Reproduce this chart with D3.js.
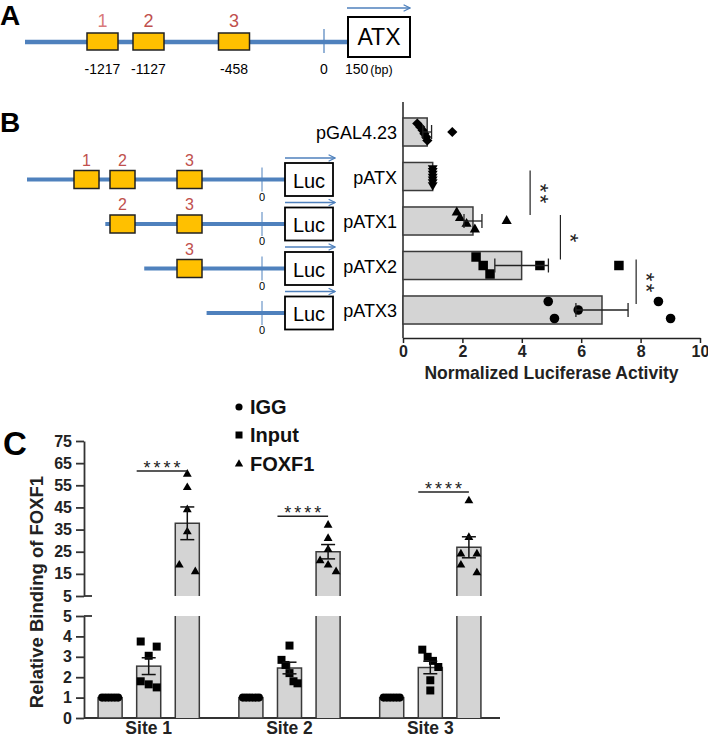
<!DOCTYPE html>
<html>
<head>
<meta charset="utf-8">
<script src="https://cdn.jsdelivr.net/npm/d3@7"></script>
<style>
  body { margin: 0; background: #fff; }
  svg { display: block; }
  text { font-family: "Liberation Sans", Arial, sans-serif; }
</style>
</head>
<body>
<svg id="fig" width="708" height="738"></svg>
<script>
// promoter map (panels A and B)
var siteNames = ["1", "2", "3"];
var siteBp = [-1217, -1127, -458];
var siteLabels = ["-1217", "-1127", "-458"];
var mapStart = -1400;
var geneStart = 0;
var geneEnd = 150;

// panel B: luciferase reporter
var constructs = ["pGAL4.23", "pATX", "pATX1", "pATX2", "pATX3"];
var constructStart = [null, -1400, -1170, -910, -350];
var constructSites = [[], [0, 1, 2], [1, 2], [2], []];
var lucValues = [
  [0.48, 0.58, 0.66, 0.72, 0.78, 0.82, 1.66],
  [1, 1, 1, 1, 1, 1, 1],
  [1.81, 1.92, 2.14, 2.42, 3.49],
  [2.46, 2.7, 2.93, 4.61, 7.27],
  [4.89, 5.1, 5.9, 8.6, 9.01]
];
var lucTicks = [0, 2, 4, 6, 8, 10];
var lucSig = [
  { from: 1, to: 2, at: 4.28, label: "**" },
  { from: 2, to: 3, at: 5.3, label: "*" },
  { from: 3, to: 4, at: 7.85, label: "**" }
];

// panel C: ChIP
var chipSites = ["Site 1", "Site 2", "Site 3"];
var chipGroups = ["IGG", "Input", "FOXF1"];
var iggValues = [[1, 1, 1, 1, 1, 1], [1, 1, 1, 1, 1, 1], [1, 1, 1, 1, 1, 1]];
var inputValues = [
  [3.75, 3.5, 3.05, 1.8, 1.65, 1.5],
  [3.55, 2.85, 2.6, 2.2, 1.8, 1.7],
  [3.35, 3.0, 2.8, 2.5, 1.85, 1.35]
];
var foxf1Values = [
  [60, 54, 44, 34, 19, 16],
  [37, 31, 26, 21, 19, 16],
  [48, 31.5, 24, 24, 19, 15.5]
];
var upperTicks = [5, 15, 25, 35, 45, 55, 65, 75];
var lowerTicks = [0, 1, 2, 3, 4, 5];
var chipSig = [61.5, 41, 52];

var blue = "#4f81bd", orange = "#ffc000", red = "#c0504d";
var barFill = "#d4d4d4", barStroke = "#3a3a3a";

var svg = d3.select("#fig");

function sem(v) {
  if (v.length < 2) return 0;
  return d3.deviation(v) / Math.sqrt(v.length);
}

// spread overlapping points across the bar, like a scatter dot plot
function spread(vals, pos, thresh, total) {
  var items = vals.map((v, i) => ({ i: i, p: pos(v) })).sort((a, b) => a.p - b.p);
  var groups = [], cur = [];
  items.forEach(function (d) {
    if (cur.length && d.p - cur[cur.length - 1].p > thresh) { groups.push(cur); cur = []; }
    cur.push(d);
  });
  if (cur.length) groups.push(cur);
  var off = vals.map(() => 0);
  groups.forEach(function (g) {
    var k = g.length;
    if (k < 2) return;
    var step = total / (k - 1);
    g.forEach((d, j) => off[d.i] = (j - (k - 1) / 2) * step);
  });
  return off;
}

var defs = svg.append("defs");
defs.append("marker")
  .attr("id", "arrowhead")
  .attr("viewBox", "0 0 10 10")
  .attr("refX", 9).attr("refY", 5)
  .attr("markerWidth", 5).attr("markerHeight", 5)
  .attr("orient", "auto")
  .append("path")
  .attr("d", "M1,1 L9,5 L1,9")
  .attr("fill", "none")
  .attr("stroke", blue)
  .attr("stroke-width", 1.6);

function panelLetter(t, x, y, size) {
  svg.append("text").attr("x", x).attr("y", y)
    .attr("font-size", size).attr("font-weight", "bold").text(t);
}

// ---------- panel A ----------
panelLetter("A", 0, 25, 28);
var gA = svg.append("g");
var mapA = d3.scaleLinear()
  .domain([mapStart].concat(siteBp, [geneStart, geneEnd]))
  .range([25, 102.5, 148.5, 234, 324, 348]);
var lineA = 42;
gA.append("line")
  .attr("x1", mapA(mapStart)).attr("x2", mapA(geneEnd))
  .attr("y1", lineA).attr("y2", lineA)
  .attr("stroke", blue).attr("stroke-width", 4.5);
gA.append("line")
  .attr("x1", mapA(geneStart)).attr("x2", mapA(geneStart))
  .attr("y1", lineA - 13).attr("y2", lineA + 11)
  .attr("stroke", blue).attr("stroke-width", 1.2);
gA.selectAll("rect.site").data(siteBp).enter().append("rect")
  .attr("class", "site")
  .attr("x", d => mapA(d) - 15.5).attr("y", lineA - 9)
  .attr("width", 31).attr("height", 17)
  .attr("fill", orange).attr("stroke", "#222").attr("stroke-width", 1.5);
gA.selectAll("text.num").data(siteBp).enter().append("text")
  .attr("x", d => mapA(d)).attr("y", 27)
  .attr("text-anchor", "middle").attr("font-size", 18)
  .attr("fill", (d, i) => i === 0 ? "#d97a7a" : red).text((d, i) => siteNames[i]);
gA.selectAll("text.bp").data(siteBp).enter().append("text")
  .attr("x", d => mapA(d)).attr("y", 74)
  .attr("text-anchor", "middle").attr("font-size", 14)
  .text((d, i) => siteLabels[i]);
gA.append("text").attr("x", mapA(geneStart)).attr("y", 74)
  .attr("text-anchor", "middle").attr("font-size", 14).text(geneStart);
var t150 = gA.append("text").attr("x", mapA(geneEnd) - 3).attr("y", 74)
  .attr("font-size", 14).text(geneEnd);
t150.append("tspan").attr("dx", 2).attr("font-size", 12.5).text("(bp)");
gA.append("rect")
  .attr("x", mapA(geneEnd)).attr("y", 17).attr("width", 62).attr("height", 40)
  .attr("fill", "#fff").attr("stroke", "#000").attr("stroke-width", 2);
gA.append("text").attr("x", mapA(geneEnd) + 31).attr("y", 37)
  .attr("text-anchor", "middle").attr("dominant-baseline", "central")
  .attr("font-size", 23).text("ATX");
gA.append("line")
  .attr("x1", mapA(geneEnd) - 1).attr("x2", mapA(geneEnd) + 62)
  .attr("y1", 8).attr("y2", 8)
  .attr("stroke", blue).attr("stroke-width", 1.6)
  .attr("marker-end", "url(#arrowhead)");

// ---------- panel B ----------
panelLetter("B", 0, 132, 28);
var xB = d3.scaleLinear().domain([0, 10]).range([403, 700]);
var yB = d3.scaleBand().domain(constructs).range([109.75, 332.25])
  .paddingInner(0.37).paddingOuter(0.185);
var bwB = yB.bandwidth();
var mapB = d3.scaleLinear()
  .domain([mapStart].concat(siteBp, [geneStart, geneEnd]))
  .range([27, 86.5, 122.5, 189.5, 262, 285]);

var gBd = svg.append("g");
constructs.forEach(function (name, i) {
  if (constructStart[i] === null) return;
  var cy = yB(name) + bwB / 2 + 3;
  var row = gBd.append("g");
  row.append("line")
    .attr("x1", mapB(constructStart[i])).attr("x2", mapB(geneEnd))
    .attr("y1", cy).attr("y2", cy)
    .attr("stroke", blue).attr("stroke-width", 4);
  row.append("line")
    .attr("x1", mapB(geneStart)).attr("x2", mapB(geneStart))
    .attr("y1", cy - 12).attr("y2", cy + 12)
    .attr("stroke", blue).attr("stroke-width", 1);
  row.append("text").attr("x", mapB(geneStart)).attr("y", cy + 17)
    .attr("text-anchor", "middle").attr("dominant-baseline", "central")
    .attr("font-size", 11).text(geneStart);
  row.selectAll("rect.site").data(constructSites[i]).enter().append("rect")
    .attr("x", s => mapB(siteBp[s]) - 12.5).attr("y", cy - 9)
    .attr("width", 25).attr("height", 18)
    .attr("fill", orange).attr("stroke", "#222").attr("stroke-width", 1.5);
  row.selectAll("text.num").data(constructSites[i]).enter().append("text")
    .attr("x", s => mapB(siteBp[s])).attr("y", cy - 14)
    .attr("text-anchor", "middle").attr("font-size", 16)
    .attr("fill", red).text(s => siteNames[s]);
  row.append("rect")
    .attr("x", mapB(geneEnd)).attr("y", cy - 16.5).attr("width", 48).attr("height", 33)
    .attr("fill", "#fff").attr("stroke", "#000").attr("stroke-width", 1.8);
  row.append("text").attr("x", mapB(geneEnd) + 24).attr("y", cy + 1)
    .attr("text-anchor", "middle").attr("dominant-baseline", "central")
    .attr("font-size", 20).text("Luc");
  row.append("line")
    .attr("x1", mapB(geneEnd)).attr("x2", mapB(geneEnd) + 50)
    .attr("y1", cy - 21.5).attr("y2", cy - 21.5)
    .attr("stroke", blue).attr("stroke-width", 1.6)
    .attr("marker-end", "url(#arrowhead)");
});

var gB = svg.append("g");
gB.selectAll("text.cname").data(constructs).enter().append("text")
  .attr("x", 397).attr("y", d => yB(d) + bwB / 2 + 1)
  .attr("text-anchor", "end").attr("dominant-baseline", "central")
  .attr("font-size", 18).text(d => d);

var axB = gB.append("g").attr("transform", "translate(0,338)")
  .call(d3.axisBottom(xB).tickValues(lucTicks).tickSize(5).tickSizeOuter(0));
axB.selectAll("path,line").attr("stroke", "#222").attr("stroke-width", 1.5);
axB.selectAll("text").attr("font-family", "Liberation Sans, Arial, sans-serif")
  .attr("font-size", 16).attr("font-weight", "bold").attr("fill", "#222");
gB.append("line").attr("x1", xB(0)).attr("x2", xB(0)).attr("y1", 102).attr("y2", 338)
  .attr("stroke", "#222").attr("stroke-width", 1.5);
gB.append("text").attr("x", (xB(0) + xB(10)) / 2).attr("y", 379)
  .attr("text-anchor", "middle").attr("font-size", 17.5).attr("font-weight", "bold")
  .attr("fill", "#222").text("Normalized Luciferase Activity");

var lucShapes = [
  { type: d3.symbolSquare, size: 52, rot: 45 },
  { type: d3.symbolTriangle, size: 42, rot: 180 },
  { type: d3.symbolTriangle, size: 45, rot: 0 },
  { type: d3.symbolSquare, size: 90, rot: 0 },
  { type: d3.symbolCircle, size: 72, rot: 0 }
];

constructs.forEach(function (name, i) {
  var vals = lucValues[i];
  var m = d3.mean(vals), e = sem(vals);
  var cy = yB(name) + bwB / 2;
  gB.append("rect")
    .attr("x", xB(0)).attr("y", yB(name))
    .attr("width", xB(m) - xB(0)).attr("height", bwB)
    .attr("fill", barFill).attr("stroke", barStroke).attr("stroke-width", 1.5);
  var off = spread(vals, xB, 13, 17);
  var sh = lucShapes[i];
  gB.selectAll("path.p" + i).data(vals).enter().append("path")
    .attr("d", d3.symbol().type(sh.type).size(sh.size))
    .attr("transform", (d, j) => `translate(${xB(d)},${cy + off[j]}) rotate(${sh.rot})`)
    .attr("fill", "#000");
  if (e > 0) {
    var eb = gB.append("g").attr("stroke", "#222").attr("stroke-width", 1.3);
    eb.append("line").attr("x1", xB(m - e)).attr("x2", xB(m + e)).attr("y1", cy).attr("y2", cy);
    [m - e, m + e].forEach(function (v) {
      eb.append("line").attr("x1", xB(v)).attr("x2", xB(v)).attr("y1", cy - 7).attr("y2", cy + 7);
    });
  }
});

// significance: vertical line with the stars stacked beside it
lucSig.forEach(function (s) {
  var y1 = yB(constructs[s.from]) + bwB / 2 - 6;
  var y2 = yB(constructs[s.to]) + bwB / 2 - 6;
  gB.append("line").attr("x1", xB(s.at)).attr("x2", xB(s.at))
    .attr("y1", y1).attr("y2", y2).attr("stroke", "#222").attr("stroke-width", 1.2);
  var mid = (y1 + y2) / 2 + 2;
  gB.append("text")
    .attr("transform", `translate(${xB(s.at) + 2.5},${mid}) rotate(90)`)
    .attr("text-anchor", "middle").attr("font-size", 22).attr("letter-spacing", 2.4)
    .attr("fill", "#222").text(s.label);
});

// ---------- panel C ----------
panelLetter("C", 3, 455, 33);
var gC = svg.append("g");
var xC0 = d3.scaleBand().domain(chipSites).range([84, 495]).paddingInner(0.281).paddingOuter(0.1);
var xC1 = d3.scaleBand().domain(chipGroups).range([0, xC0.bandwidth()]).paddingInner(0.377);
var bwC = xC1.bandwidth();
var yLow = d3.scaleLinear().domain([0, 5]).range([718, 616]);
var yUp = d3.scaleLinear().domain([5, 75]).range([596, 441]);
function yC(v) { return v <= 5 ? yLow(v) : yUp(v); }

var axisFont = "Liberation Sans, Arial, sans-serif";
function styleAxis(g) {
  g.selectAll("path,line").attr("stroke", "#333").attr("stroke-width", 1.8);
  g.selectAll("text").attr("font-family", axisFont).attr("font-size", 16)
    .attr("font-weight", "bold").attr("fill", "#222");
}
var axUp = gC.append("g").attr("transform", "translate(84,0)")
  .call(d3.axisLeft(yUp).tickValues(upperTicks).tickFormat(d3.format("d"))
    .tickSize(8).tickPadding(4).tickSizeOuter(0));
styleAxis(axUp);
var axLow = gC.append("g").attr("transform", "translate(84,0)")
  .call(d3.axisLeft(yLow).tickValues(lowerTicks).tickFormat(d3.format("d"))
    .tickSize(8).tickPadding(4).tickSizeOuter(0));
styleAxis(axLow);
[yUp(5), yLow(5)].forEach(function (y) {
  gC.append("line").attr("x1", 84).attr("x2", 92).attr("y1", y).attr("y2", y)
    .attr("stroke", "#333").attr("stroke-width", 1.8);
});
gC.append("line").attr("x1", 84).attr("x2", 500).attr("y1", yLow(0)).attr("y2", yLow(0))
  .attr("stroke", "#333").attr("stroke-width", 1.8);

gC.selectAll("text.site").data(chipSites).enter().append("text")
  .attr("x", d => xC0(d) + xC0.bandwidth() / 2).attr("y", 734)
  .attr("text-anchor", "middle").attr("font-size", 17.5).attr("font-weight", "bold")
  .attr("fill", "#222").text(d => d);

gC.append("text")
  .attr("transform", "translate(36,592) rotate(-90)")
  .attr("text-anchor", "middle").attr("dominant-baseline", "central")
  .attr("font-size", 18.5).attr("font-weight", "bold").attr("fill", "#222")
  .text("Relative Binding of FOXF1");

var chipShapes = {
  IGG: { type: d3.symbolCircle, size: 52 },
  Input: { type: d3.symbolSquare, size: 64 },
  FOXF1: { type: d3.symbolTriangle, size: 34 }
};
var chipData = { IGG: iggValues, Input: inputValues, FOXF1: foxf1Values };

chipSites.forEach(function (site, si) {
  chipGroups.forEach(function (grp) {
    var vals = chipData[grp][si];
    var m = d3.mean(vals), e = sem(vals);
    var x0 = xC0(site) + xC1(grp), cx = x0 + bwC / 2;
    if (m <= 5) {
      gC.append("rect").attr("x", x0).attr("y", yLow(m))
        .attr("width", bwC).attr("height", yLow(0) - yLow(m))
        .attr("fill", barFill).attr("stroke", barStroke).attr("stroke-width", 1.5);
    } else {
      gC.append("rect").attr("x", x0).attr("y", yLow(5))
        .attr("width", bwC).attr("height", yLow(0) - yLow(5)).attr("fill", barFill);
      gC.append("path")
        .attr("d", `M${x0},${yLow(0)}V${yLow(5)}M${x0 + bwC},${yLow(5)}V${yLow(0)}`)
        .attr("fill", "none").attr("stroke", barStroke).attr("stroke-width", 1.5);
      gC.append("path")
        .attr("d", `M${x0},${yUp(5)}V${yUp(m)}H${x0 + bwC}V${yUp(5)}`)
        .attr("fill", barFill).attr("stroke", barStroke).attr("stroke-width", 1.5);
    }
    var off = spread(vals, yC, 9, 16);
    var sh = chipShapes[grp];
    gC.selectAll(null).data(vals).enter().append("path")
      .attr("d", d3.symbol().type(sh.type).size(sh.size))
      .attr("transform", (d, j) => `translate(${cx + off[j]},${yC(d)})`)
      .attr("fill", "#000");
    if (e > 0) {
      var eb = gC.append("g").attr("stroke", "#111").attr("stroke-width", 1.5);
      eb.append("line").attr("x1", cx).attr("x2", cx).attr("y1", yC(m - e)).attr("y2", yC(m + e));
      [m - e, m + e].forEach(function (v) {
        eb.append("line").attr("x1", cx - 7).attr("x2", cx + 7).attr("y1", yC(v)).attr("y2", yC(v));
      });
    }
  });
  var lx1 = xC0(site) + xC1("Input"), lx2 = xC0(site) + xC1("FOXF1") + bwC / 2;
  var ly = yUp(chipSig[si]);
  gC.append("line").attr("x1", lx1).attr("x2", lx2).attr("y1", ly).attr("y2", ly)
    .attr("stroke", "#222").attr("stroke-width", 1.5);
  gC.append("text").attr("x", (lx1 + lx2) / 2 + 1.5).attr("y", ly + 3)
    .attr("text-anchor", "middle").attr("font-size", 18).attr("letter-spacing", 3)
    .attr("fill", "#222").text("****");
});

// legend
var legY = [407, 435, 464];
var legShapes = [
  { type: d3.symbolCircle, size: 40 },
  { type: d3.symbolSquare, size: 49 },
  { type: d3.symbolTriangle, size: 30 }
];
chipGroups.forEach(function (g, i) {
  gC.append("path").attr("d", d3.symbol().type(legShapes[i].type).size(legShapes[i].size))
    .attr("transform", `translate(239,${legY[i]})`).attr("fill", "#000");
  gC.append("text").attr("x", 250).attr("y", legY[i])
    .attr("dominant-baseline", "central").attr("font-size", 20).attr("font-weight", "bold")
    .attr("fill", "#111").text(g);
});
</script>
</body>
</html>
